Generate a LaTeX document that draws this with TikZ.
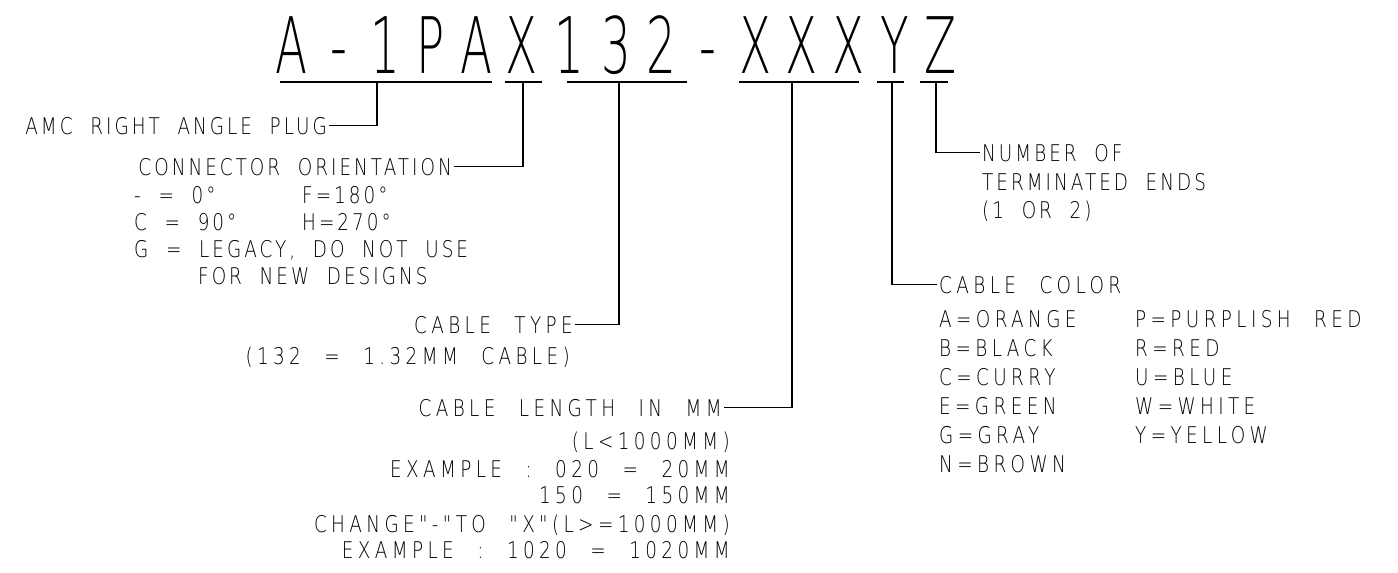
\documentclass[tikz,border=0pt]{standalone}
\usepackage{fontspec}
\IfFontExistsTF{DejaVuSans-ExtraLight.ttf}
    {\newfontfamily\cadfont{DejaVuSans-ExtraLight.ttf}[FakeStretch=0.8,LetterSpace=13,WordSpace=2.0]
     \newfontfamily\cadwide{DejaVuSans-ExtraLight.ttf}[FakeStretch=0.8,LetterSpace=19,WordSpace=2.3]
     \newfontfamily\titlefont{DejaVuSans-ExtraLight.ttf}[FakeStretch=0.6]}
    {\newfontfamily\cadfont{DejaVu Sans Mono}[FakeStretch=0.8,LetterSpace=13,WordSpace=1.3]
     \newfontfamily\cadwide{DejaVu Sans Mono}[FakeStretch=0.8,LetterSpace=19,WordSpace=1.4]
     \newfontfamily\titlefont{DejaVu Sans Mono}[FakeStretch=0.6]}
\begin{document}
\begin{tikzpicture}[x=1pt,y=-1pt]
            \useasboundingbox (0,0) rectangle (1398,573);
            {
                \tikzset{every node/.style = {inner sep=0pt, inner xsep=2pt, text height=17pt, text depth=0pt,
                    font=\cadfont\fontsize{23}{23}\selectfont}}
                \tikzset{wide/.style = {font=\cadwide\fontsize{23}{23}\selectfont}}
                \tikzset{titlech/.style = {anchor=base, inner xsep=0pt, text height=57pt,
                    font=\titlefont\fontsize{78}{78}\selectfont}}

                \node[titlech] (c1) at (292,73) {A};
                \node[titlech] (c2) at (339,73) {-};
                \node[titlech] (c3) at (385,73) {1};
                \node[titlech] (c4) at (431,73) {P};
                \node[titlech] (c5) at (477,73) {A};
                \node[titlech] (c6) at (522,73) {X};
                \node[titlech] (c7) at (569,73) {1};
                \node[titlech] (c8) at (616,73) {3};
                \node[titlech] (c9) at (661,73) {2};
                \node[titlech] (c10) at (708,73) {-};
                \node[titlech] (c11) at (756,73) {X};
                \node[titlech] (c12) at (802,73) {X};
                \node[titlech] (c13) at (849,73) {X};
                \node[titlech] (c14) at (895,73) {Y};
                \node[titlech] (c15) at (941,73) {Z};

                \node[anchor=base east] (amc) at (329,134) {AMC RIGHT ANGLE PLUG};

                \node[anchor=base east] (orient) at (454,175) {CONNECTOR ORIENTATION};
                \node[anchor=base west] (o1) at (132,203) {- = 0°};
                \node[anchor=base west] (o1b) at (300,203) {F=180°};
                \node[anchor=base west] (o2) at (132,230) {C = 90°};
                \node[anchor=base west] (o2b) at (300,230) {H=270°};
                \node[anchor=base west] (o3) at (132,257) {G = LEGACY, DO NOT USE};
                \node[anchor=base west] (o4) at (196,284) {FOR NEW DESIGNS};

                \node[wide, anchor=base east] (ctype) at (575,333) {CABLE TYPE};
                \node[wide, anchor=base east] (ctype2) at (572,364) {(132 = 1.32MM CABLE)};

                \node[wide, anchor=base east] (clen) at (724,416) {CABLE LENGTH IN MM};
                \node[wide, anchor=base east] (clen1) at (732,449) {(L<1000MM)};
                \node[wide, anchor=base east] (clen2) at (732,477) {EXAMPLE : 020 = 20MM};
                \node[wide, anchor=base east] (clen3) at (732,503) {150 = 150MM};
                \node[wide, anchor=base east] (clen4) at (732,532) {CHANGE"-"TO "X"(L>=1000MM)};
                \node[wide, anchor=base east] (clen5) at (732,558) {EXAMPLE : 1020 = 1020MM};

                \node[anchor=base west] (nterm) at (980,161) {NUMBER OF};
                \node[anchor=base west] (nterm2) at (980,190) {TERMINATED ENDS};
                \node[anchor=base west] (nterm3) at (980,218) {(1 OR 2)};

                \node[wide, anchor=base west] (ccol) at (937,293) {CABLE COLOR};
                \node[wide, anchor=base west] (colA) at (937,327) {A=ORANGE};
                \node[wide, anchor=base west] (colB) at (937,356) {B=BLACK};
                \node[wide, anchor=base west] (colC) at (937,385) {C=CURRY};
                \node[wide, anchor=base west] (colE) at (937,414) {E=GREEN};
                \node[wide, anchor=base west] (colG) at (937,443) {G=GRAY};
                \node[wide, anchor=base west] (colN) at (937,472) {N=BROWN};
                \node[wide, anchor=base west] (colP) at (1133,327) {P=PURPLISH RED};
                \node[wide, anchor=base west] (colR) at (1133,356) {R=RED};
                \node[wide, anchor=base west] (colU) at (1133,385) {U=BLUE};
                \node[wide, anchor=base west] (colW) at (1133,414) {W=WHITE};
                \node[wide, anchor=base west] (colY) at (1133,443) {Y=YELLOW};
            }

            % underlines below the part number
            \coordinate (u1w) at (280,82);  \coordinate (u1e) at (492,82);  \coordinate (t1) at (377,82);
            \coordinate (u2w) at (505,82);  \coordinate (u2e) at (542,82);  \coordinate (t2) at (523,82);
            \coordinate (u3w) at (567,82);  \coordinate (u3e) at (687,82);  \coordinate (t3) at (619,82);
            \coordinate (u4w) at (739,82);  \coordinate (u4e) at (859,82);  \coordinate (t4) at (792,82);
            \coordinate (u5w) at (877,82);  \coordinate (u5e) at (904,82);  \coordinate (t5) at (892,82);
            \coordinate (u6w) at (920,82);  \coordinate (u6e) at (948,82);  \coordinate (t6) at (936,82);

            \draw[line width=2.5pt] (u1w) -- (u1e);
            \draw[line width=2.5pt] (u2w) -- (u2e);
            \draw[line width=2.5pt] (u3w) -- (u3e);
            \draw[line width=2.5pt] (u4w) -- (u4e);
            \draw[line width=2.5pt] (u5w) -- (u5e);
            \draw[line width=2.5pt] (u6w) -- (u6e);

            % leaders
            \draw[line width=1.1pt] (t1) |- (amc.east);
            \draw[line width=1.1pt] (t2) |- (orient.east);
            \draw[line width=1.1pt] (t3) |- (ctype.east);
            \draw[line width=1.1pt] (t4) |- (clen.east);
            \draw[line width=1.1pt] (t5) |- (ccol.west);
            \draw[line width=1.1pt] (t6) |- (nterm.west);

\end{tikzpicture}
\end{document}
